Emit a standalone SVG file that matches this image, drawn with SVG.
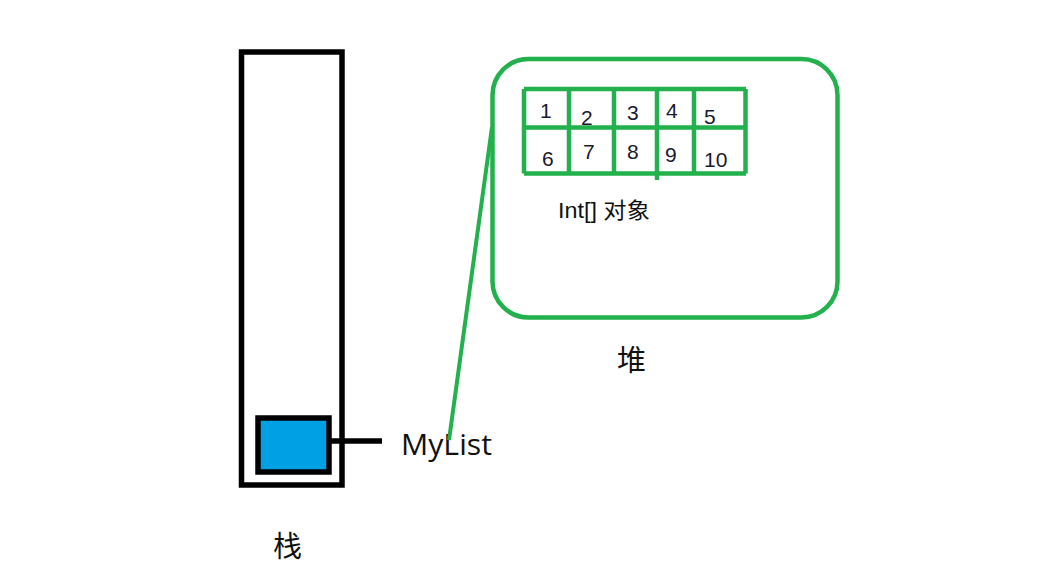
<svg xmlns="http://www.w3.org/2000/svg" width="1062" height="588" viewBox="0 0 1062 588">
<style>
.blk{fill:none;stroke:#000;stroke-width:5.5}
.grn{fill:none;stroke:#22B14C;stroke-width:4.5}
.num{font-family:"Liberation Sans",Arial,sans-serif;font-size:21px;fill:#1a1a2e}
.lbl{font-family:"Liberation Sans","Noto Sans CJK SC",sans-serif;fill:#111}
.cjk{font-family:"Noto Sans CJK SC",sans-serif;fill:#111}
.ml{font-family:"Open Sans","Liberation Sans",sans-serif;fill:#111}
</style>
<rect width="1062" height="588" fill="#fff"/>
<g id="stack">
<rect class="blk" x="241.5" y="52" width="100.5" height="433"/>
<text class="cjk" x="273" y="557" font-size="29">栈</text>
</g>
<g id="mylist">
<rect x="258" y="418" width="71" height="54" fill="#00A0E4" stroke="#000" stroke-width="5.5"/>
<text class="ml" x="401" y="455" font-size="29" textLength="91" lengthAdjust="spacingAndGlyphs">MyList</text>
</g>
<g id="heap">
<rect class="grn" x="492.5" y="59" width="345" height="258.5" rx="36" ry="36"/>
<text class="cjk" x="617" y="371" font-size="29">堆</text>
</g>
<g id="array">
<path class="grn" d="M524 89H746M524 127.5H746M524 173.5H746M524 89V173.5M745.5 89V173.5M569 89V173.5M614 89V173.5M657 89V180M694 89V173.5" stroke-width="5"/>
<text class="num" x="540" y="118">1</text>
<text class="num" x="581" y="125">2</text>
<text class="num" x="627" y="120">3</text>
<text class="num" x="666" y="118">4</text>
<text class="num" x="704" y="124">5</text>
<text class="num" x="542" y="166">6</text>
<text class="num" x="583" y="159">7</text>
<text class="num" x="627" y="159">8</text>
<text class="num" x="665" y="162">9</text>
<text class="num" x="704" y="167">10</text>
<text class="lbl" x="558" y="218" font-size="22" textLength="92" lengthAdjust="spacingAndGlyphs">Int[] <tspan class="cjk">对象</tspan></text>
</g>
<g id="connectors">
<line x1="329" y1="441" x2="382" y2="441" stroke="#000" stroke-width="5.5"/>
<line x1="449" y1="440" x2="492" y2="127" stroke="#22B14C" stroke-width="4"/>
</g>
</svg>
